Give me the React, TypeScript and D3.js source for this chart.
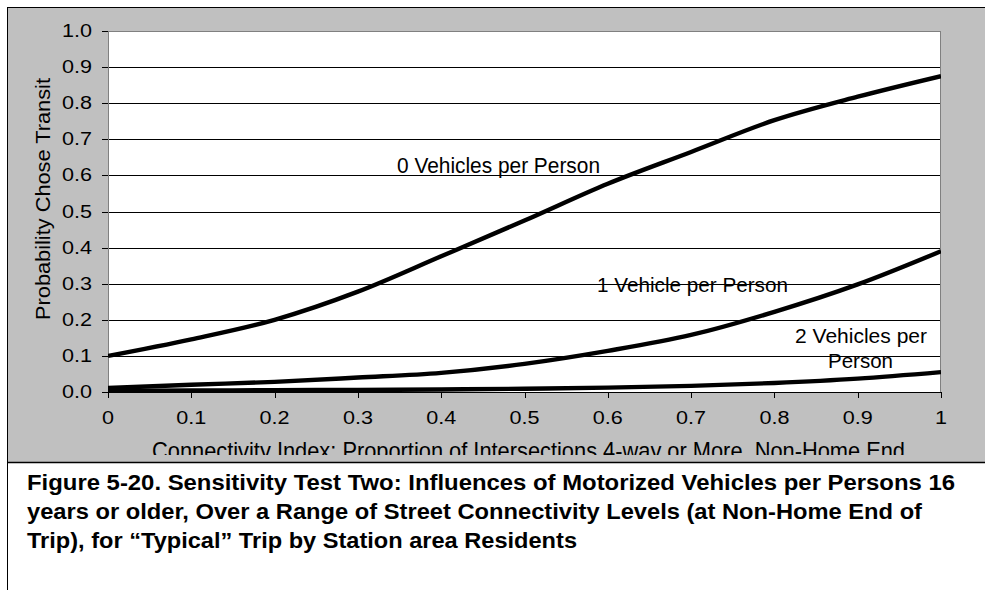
import React from "react";
import * as d3 from "d3";

const xValues = [0, 0.1, 0.2, 0.3, 0.4, 0.5, 0.6, 0.7, 0.8, 0.9, 1];
const zeroVehicles = [0.1, 0.146, 0.2, 0.278, 0.376, 0.475, 0.577, 0.665, 0.753, 0.818, 0.875];
const oneVehicle = [0.011, 0.02, 0.028, 0.04, 0.053, 0.078, 0.114, 0.158, 0.222, 0.298, 0.39];
const twoVehicles = [0.003, 0.004, 0.005, 0.006, 0.007, 0.009, 0.012, 0.017, 0.025, 0.037, 0.055];
const yTicks = [0, 0.1, 0.2, 0.3, 0.4, 0.5, 0.6, 0.7, 0.8, 0.9, 1.0];
const xTickLabels = ["0", "0.1", "0.2", "0.3", "0.4", "0.5", "0.6", "0.7", "0.8", "0.9", "1"];
const captionLines = [
  "Figure 5-20. Sensitivity Test Two: Influences of Motorized Vehicles per Persons 16",
  "years or older, Over a Range of Street Connectivity Levels (at Non-Home End of",
  "Trip), for \u201cTypical\u201d Trip by Station area Residents",
];
const captionWidths = [928, 895, 550];

export default function App() {
  const W = 985;
  const H = 590;
  const left = 108, right = 941, top = 31, bottom = 392;
  const x = d3.scaleLinear().domain([0, 1]).range([left, right]);
  const y = d3.scaleLinear().domain([0, 1]).range([bottom, top]);
  const line = d3
    .line<number>()
    .x((_, i) => x(xValues[i]))
    .y((d) => y(d))
    .curve(d3.curveMonotoneX);
  const series = [zeroVehicles, oneVehicle, twoVehicles];
  const font = "Liberation Sans, Arial, sans-serif";
  const narrow = "'Liberation Sans Narrow', 'Arial Narrow', Liberation Sans, Arial, sans-serif";
  const labelWidth = (s: string) => (s.length === 1 ? 12 : 30);

  return (
    <svg
      width={W}
      height={H}
      style={{ position: "absolute", left: 0, top: 0, background: "#fff" }}
      fontFamily={font}
    >
      <defs>
        <clipPath id="greyClip">
          <rect x={8} y={8} width={W - 8} height={447} />
        </clipPath>
        <clipPath id="plotClip">
          <rect x={left} y={top - 2} width={right - left} height={bottom - top + 2} />
        </clipPath>
      </defs>
      {/* grey chart area */}
      <rect x={8} y={8} width={W - 8} height={454} fill="#c0c0c0" />
      <line x1={7} x2={W} y1={7.5} y2={7.5} stroke="#000" strokeWidth={1} />
      <line x1={7.5} x2={7.5} y1={7} y2={H} stroke="#000" strokeWidth={1} />
      <line x1={7} x2={W} y1={462.5} y2={462.5} stroke="#000" strokeWidth={1.5} />

      {/* plot area */}
      <rect x={left} y={top} width={right - left} height={bottom - top} fill="#fff" />
      {yTicks.slice(1, 10).map((t) => (
        <line key={t} x1={left} x2={right} y1={Math.round(y(t)) + 0.5} y2={Math.round(y(t)) + 0.5} stroke="#000" strokeWidth={1} />
      ))}
      <rect x={left + 0.5} y={top + 0.5} width={right - left - 1} height={bottom - top} fill="none" stroke="#808080" strokeWidth={1} />
      <line x1={left} x2={right} y1={bottom + 0.5} y2={bottom + 0.5} stroke="#000" strokeWidth={1} />

      {/* y ticks */}
      {yTicks.map((t) => (
        <g key={"y" + t}>
          <line x1={left - 6} x2={left} y1={Math.round(y(t)) + 0.5} y2={Math.round(y(t)) + 0.5} stroke="#000" strokeWidth={1} />
          <text x={92} y={y(t) + 6} fontSize={17.5} textAnchor="end" fill="#000" textLength={30} lengthAdjust="spacingAndGlyphs">
            {t.toFixed(1)}
          </text>
        </g>
      ))}
      {/* x ticks */}
      {xValues.map((v, i) => (
        <g key={"x" + v}>
          <line x1={Math.round(x(v)) + 0.5} x2={Math.round(x(v)) + 0.5} y1={bottom} y2={bottom + 6} stroke="#000" strokeWidth={1} />
          <text
            x={x(v)}
            y={423.5}
            fontSize={17.5}
            textAnchor="middle"
            fill="#000"
            textLength={labelWidth(xTickLabels[i])}
            lengthAdjust="spacingAndGlyphs"
          >
            {xTickLabels[i]}
          </text>
        </g>
      ))}

      {/* lines */}
      <g clipPath="url(#plotClip)">
        {series.map((s, i) => (
          <path key={i} d={line(s) || ""} fill="none" stroke="#000" strokeWidth={4.4} strokeLinejoin="round" />
        ))}
      </g>

      {/* series labels */}
      <text x={397} y={172.5} fontSize={22} fontFamily={narrow} textLength={203} lengthAdjust="spacingAndGlyphs" fill="#000">
        0 Vehicles per Person
      </text>
      <text x={597} y={292} fontSize={21} fontFamily={narrow} textLength={191} lengthAdjust="spacingAndGlyphs" fill="#000">
        1 Vehicle per Person
      </text>
      <text x={795} y={343} fontSize={21} fontFamily={narrow} textLength={132} lengthAdjust="spacingAndGlyphs" fill="#000">
        2 Vehicles per
      </text>
      <text x={828} y={368} fontSize={21} fontFamily={narrow} textLength={65} lengthAdjust="spacingAndGlyphs" fill="#000">
        Person
      </text>

      {/* axis titles */}
      <text
        transform={`translate(50,199) rotate(-90)`}
        fontSize={20.5}
        textAnchor="middle"
        fill="#000"
        textLength={242}
        lengthAdjust="spacingAndGlyphs"
      >
        Probability Chose Transit
      </text>
      <g clipPath="url(#greyClip)">
        <text x={152} y={459} fontSize={24} fontFamily={narrow} textLength={753} lengthAdjust="spacingAndGlyphs" fill="#000">
          Connectivity Index: Proportion of Intersections 4-way or More, Non-Home End
        </text>
      </g>

      {/* caption */}
      {captionLines.map((c, i) => (
        <text
          key={i}
          x={27}
          y={490 + i * 29}
          fontSize={22.5}
          fontWeight="bold"
          textLength={captionWidths[i]}
          lengthAdjust="spacingAndGlyphs"
          fill="#000"
        >
          {c}
        </text>
      ))}
    </svg>
  );
}
